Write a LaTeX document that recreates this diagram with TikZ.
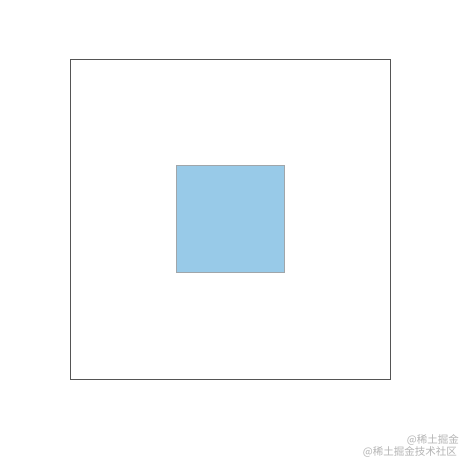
\documentclass[tikz,border=0pt]{standalone}
\usepackage{fontspec}
\newfontfamily\cjk{Noto Sans CJK SC}
\definecolor{boxblue}{HTML}{98CAE8}
\definecolor{boxedge}{HTML}{A0A6AA}
\definecolor{frameedge}{HTML}{555555}
\definecolor{markgray}{HTML}{B4B4B4}
\begin{document}
\begin{tikzpicture}[x=1pt, y=-1pt]
    \tikzstyle{frame} = [draw=frameedge, line width=0.9pt]
    \tikzstyle{inner} = [draw=boxedge, fill=boxblue, line width=0.8pt]
    \tikzstyle{watermark} = [text=markgray, font=\cjk\fontsize{10.5}{12}\selectfont, inner sep=0pt, anchor=east]
    \useasboundingbox (0, 0) rectangle (460, 460);
    \fill[white] (0, 0) rectangle (460, 460);
    \draw[frame] (70, 59.5) rectangle (390, 379.5);
    \draw[inner] (176.5, 165.5) rectangle (284.5, 272.5);
    \node[watermark] (mark1) at (459, 440) {@稀土掘金};
    \node[watermark] (mark2) at (457, 452) {@稀土掘金技术社区};
\end{tikzpicture}
\end{document}
